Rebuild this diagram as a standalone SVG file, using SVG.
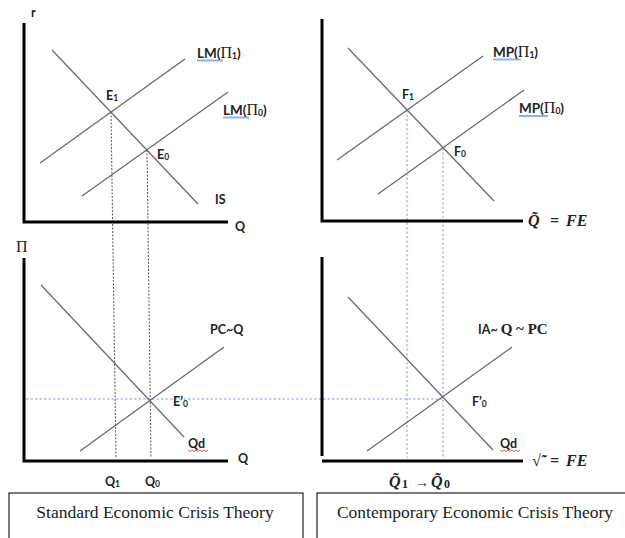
<svg xmlns="http://www.w3.org/2000/svg" width="625" height="538" viewBox="0 0 625 538">
<style>
.axis{stroke:#000;stroke-width:3;fill:none}
.curve{stroke:#6b6b6b;stroke-width:1.3;fill:none}
.blk{stroke:#555;stroke-width:1;stroke-dasharray:2,1.5;fill:none}
.blu{stroke:#7fa6dc;stroke-width:1;stroke-dasharray:2.5,2;fill:none}
.lbl{font-family:Lato,"Liberation Sans",sans-serif;font-weight:bold;font-size:12.5px;fill:#222}
.big{font-size:13.5px}
.pi{font-family:"Liberation Serif",serif;font-weight:normal;font-size:16px}
.sub{font-size:8.5px}
.math{font-family:"Liberation Serif",serif;font-weight:bold;font-style:italic;font-size:16px;fill:#222}
.cap{font-family:"Liberation Serif",serif;font-size:17.5px;fill:#222}
.box{fill:#fff;stroke:#222;stroke-width:1.2}
.ul{stroke:#8fb4e3;stroke-width:2}
.sq{stroke:#e04848;stroke-width:0.9;fill:none}
</style>
<rect width="625" height="538" fill="#fff"/>
<g id="connectors">
  <line class="blk" x1="111" y1="112" x2="116" y2="458"/>
  <line class="blk" x1="147" y1="150" x2="151" y2="458"/>
  <line class="blu" x1="407" y1="110" x2="407" y2="458"/>
  <line class="blu" x1="443" y1="148" x2="443" y2="458"/>
  <line class="blu" x1="26" y1="399" x2="443" y2="399"/>
  <line class="curve" x1="52" y1="50" x2="198" y2="204"/>
  <line class="curve" x1="40" y1="163" x2="185" y2="59"/>
  <line class="curve" x1="82" y1="196" x2="228" y2="92"/>
  <line class="curve" x1="348" y1="48" x2="494" y2="201"/>
  <line class="curve" x1="337" y1="160" x2="483" y2="56"/>
  <line class="curve" x1="378" y1="194" x2="524" y2="90"/>
  <line class="curve" x1="41" y1="285" x2="184" y2="437"/>
  <line class="curve" x1="80" y1="451" x2="224" y2="347"/>
  <line class="curve" x1="348" y1="297" x2="493" y2="450"/>
  <line class="curve" x1="367" y1="451" x2="512" y2="347"/>
</g>
<g id="panel-top-left">
  <path class="axis" d="M24,23 V222 H228"/>
  <text class="lbl" x="31" y="17" font-size="11">r</text>
  <text class="lbl" x="235" y="231" font-size="13">Q</text>
  <text class="lbl" x="215" y="204" font-size="11.5">IS</text>
  <line class="ul" x1="197" y1="60.5" x2="223" y2="60.5"/>
  <text class="lbl big" x="197" y="58">LM(<tspan class="pi">Π</tspan><tspan class="sub" dy="1">1</tspan><tspan dy="-1">)</tspan></text>
  <line class="ul" x1="223" y1="117.5" x2="249" y2="117.5"/>
  <text class="lbl big" x="223" y="115">LM(<tspan class="pi">Π</tspan><tspan class="sub" dy="1">0</tspan><tspan dy="-1">)</tspan></text>
  <text class="lbl" x="106" y="100" font-size="11.5">E<tspan class="sub" dy="1">1</tspan></text>
  <text class="lbl" x="157" y="159" font-size="11.5">E<tspan class="sub" dy="1">0</tspan></text>
</g>
<g id="panel-top-right">
  <path class="axis" d="M322,19 V221 H523"/>
  <text class="math" x="528" y="226">Q̃<tspan x="550">=</tspan><tspan x="566">FE</tspan></text>
  <line class="ul" x1="493" y1="59.5" x2="521" y2="59.5"/>
  <text class="lbl big" x="493" y="57">MP(<tspan class="pi">Π</tspan><tspan class="sub" dy="1">1</tspan><tspan dy="-1">)</tspan></text>
  <line class="ul" x1="519" y1="116" x2="548" y2="116"/>
  <text class="lbl big" x="519" y="113">MP(<tspan class="pi">Π</tspan><tspan class="sub" dy="1">0</tspan><tspan dy="-1">)</tspan></text>
  <text class="lbl" x="402" y="99" font-size="11.5">F<tspan class="sub" dy="1">1</tspan></text>
  <text class="lbl" x="454" y="156" font-size="11.5">F<tspan class="sub" dy="1">0</tspan></text>
</g>
<g id="panel-bottom-left">
  <path class="axis" d="M24,258 V461 H228"/>
  <text class="pi" x="16" y="252" font-size="14" fill="#222">Π</text>
  <text class="lbl" x="238" y="463" font-size="13">Q</text>
  <text class="lbl" x="210" y="334" font-size="12">PC~Q</text>
  <text class="lbl" x="173" y="406" font-size="11.5">E’<tspan class="sub" dy="1">0</tspan></text>
  <text class="lbl" x="188" y="448" font-size="12">Qd</text>
  <path class="sq" d="M188,450 l2,1.5 l2,-1.5 l2,1.5 l2,-1.5 l2,1.5 l2,-1.5 l2,1.5 l2,-1.5 l2,1.5 l2,-1.5"/>
  <text class="lbl" x="105" y="486" font-size="12">Q<tspan class="sub" dy="1">1</tspan></text>
  <text class="lbl" x="145" y="486" font-size="12">Q<tspan class="sub" dy="1">0</tspan></text>
</g>
<g id="panel-bottom-right">
  <path class="axis" d="M322,257 V456 M322,461 H523"/>
  <text class="math" x="532" y="466">√̃<tspan x="550">=</tspan><tspan x="566">FE</tspan></text>
  <text class="lbl" x="478" y="334" font-size="12.5">IA~ <tspan style="font-family:'Liberation Serif',serif;font-size:15px">Q ~ PC</tspan></text>
  <text class="lbl" x="472" y="406" font-size="11.5">F’<tspan class="sub" dy="1">0</tspan></text>
  <text class="lbl" x="500" y="448" font-size="12">Qd</text>
  <path class="sq" d="M500,450 l2,1.5 l2,-1.5 l2,1.5 l2,-1.5 l2,1.5 l2,-1.5 l2,1.5 l2,-1.5 l2,1.5 l2,-1.5"/>
  <text class="math" x="389" y="487">Q̃<tspan x="402" font-size="12" font-style="normal" dy="1">1</tspan><tspan x="415" dy="-1" font-style="normal" font-size="14">→</tspan><tspan x="431">Q̃</tspan><tspan x="444" font-size="12" font-style="normal" dy="1">0</tspan></text>
</g>
<g id="box-standard">
  <rect class="box" x="9" y="493" width="294" height="60"/>
  <text class="cap" x="155" y="518" text-anchor="middle">Standard Economic Crisis Theory</text>
</g>
<g id="box-contemporary">
  <rect class="box" x="317" y="493" width="320" height="60"/>
  <text class="cap" x="475" y="518" text-anchor="middle">Contemporary Economic Crisis Theory</text>
</g>
</svg>
